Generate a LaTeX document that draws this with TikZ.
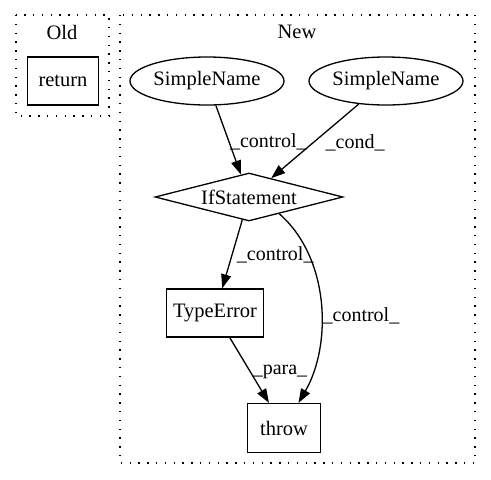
\documentclass[tikz,border=0pt]{standalone}
\usepackage{fontspec}
\setmainfont{Liberation Serif}
\usetikzlibrary{shapes.geometric,arrows.meta}
\tikzset{
  every node/.style={font=\fontsize{20.5}{24}\selectfont},
  box/.style={draw, line width=1.3pt, rectangle, inner sep=0pt},
  oval/.style={draw, line width=1.3pt, ellipse, inner sep=0pt, minimum width=154pt, minimum height=48pt},
  decision/.style={draw, line width=1.3pt, diamond, inner sep=0pt, aspect=3.9, minimum width=188pt, minimum height=48pt},
  cluster/.style={line width=1.3pt, dash pattern=on 1.4pt off 7.4pt},
  edge/.style={line width=1.3pt, -{Triangle[length=14pt,width=10pt]}},
  lbl/.style={anchor=west, inner sep=1pt, font=\fontsize{20}{24}\selectfont},
}
\begin{document}
\begin{tikzpicture}[x=1pt,y=-1pt]
\path[use as bounding box] (0,0) rectangle (491,480);
% clusters
\draw[cluster] (16,15) rectangle (109,116);
\draw[cluster] (120,15) rectangle (475,463);
\node (oldlbl) at (62,32) {Old};
\node (newlbl) at (297,32) {New};
% nodes
\node[box, minimum width=71pt, minimum height=48pt] (ret) at (63,81) {return};
\node[oval] (sn1) at (207,81) {SimpleName};
\node[oval] (sn2) at (386,81) {SimpleName};
\node[decision] (if) at (249,197) {IfStatement};
\node[box, minimum width=97pt, minimum height=48pt] (te) at (215,313) {TypeError};
\node[box, minimum width=73pt, minimum height=49pt] (thr) at (284,428) {throw};
% edges
\draw[edge] (sn1) -- node[lbl, pos=0.5, yshift=-2pt] {\_control\_} (if);
\draw[edge] (sn2) -- node[lbl, pos=0.5, xshift=9pt, yshift=-2pt] {\_cond\_} (if);
\draw[edge] (if) -- node[lbl, pos=0.5, xshift=3pt, yshift=-1pt] {\_control\_} (te);
\draw[edge] (if.-29) .. controls (330,258) and (332,345) .. node[lbl, pos=0.56] {\_control\_} (thr.60);
\draw[edge] (te) -- node[lbl, pos=0.52, xshift=1pt] {\_para\_} (thr);
\end{tikzpicture}
\end{document}
